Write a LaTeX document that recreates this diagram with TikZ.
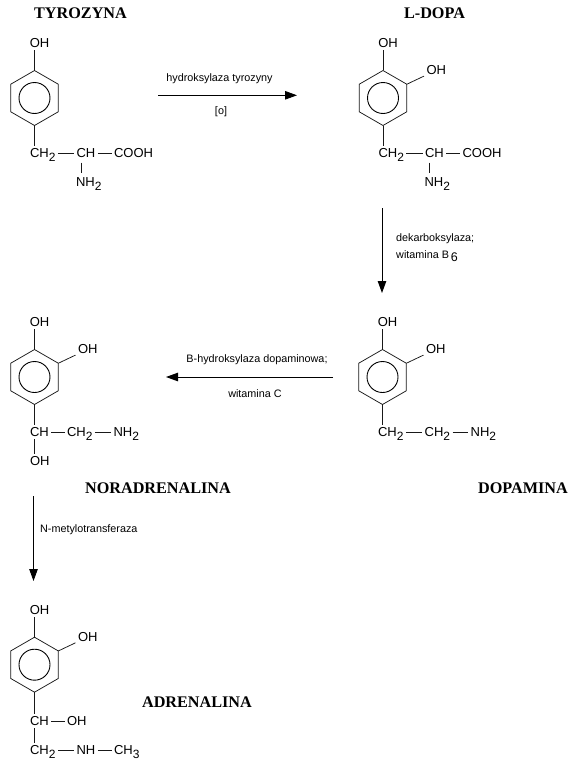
\documentclass[tikz,border=0pt]{standalone}
\usepackage{fontspec}
\setmainfont{Liberation Sans}
\newfontfamily\titlefont{Liberation Serif}
\usetikzlibrary{shapes.geometric,arrows.meta}
\newcommand{\lowidx}[1]{\raisebox{-4pt}{\fontsize{12}{12}\selectfont #1}}
\tikzset{
  x=1pt,y=-1pt,
  atom/.style={inner sep=0pt,outer sep=2.5pt,font=\fontsize{13}{14}\selectfont,text height=9.2pt,text depth=0pt,anchor=west,xshift=-2.5pt},
  bond/.style={line width=0.75pt,black!90},
  hexring/.style={draw=black!90,line width=0.75pt,regular polygon,regular polygon sides=6,shape border rotate=30,minimum size=55pt,inner sep=0pt,outer sep=0pt},
  innerring/.style={draw=black,line width=0.9pt,circle,minimum size=31pt,inner sep=0pt,outer sep=0pt},
  reaction/.style={line width=0.9pt,-{Triangle[length=12pt,width=8.5pt]}},
  enzyme/.style={inner sep=0pt,font=\fontsize{10.8}{12}\selectfont,black},
  title/.style={inner sep=0pt,font=\titlefont\fontsize{16.2}{18}\selectfont\bfseries},
}
\newcommand{\benzene}[3]{%
  \node[hexring] (#1ring) at (#2,#3) {};
  \node[innerring] (#1in) at (#2,#3) {};
  \node[atom] (#1oh) at (#2-4.7,#3-55) {OH};
  \draw[bond] (#1ring.90) -- (#1ring.90 |- #1oh.south);
}
\newcommand{\metaoh}[3]{%
  \node[atom] (#1oh2) at (#2+43.5,#3-28) {OH};
  \draw[bond] (#1ring.30) -- ([yshift=1pt]#1oh2.south west);
}
\begin{document}
\begin{tikzpicture}
\useasboundingbox (0,0) rectangle (569,763);
% Tyrozyna
\node[title] (t1) at (80.5,13) {TYROZYNA};
\benzene{a}{34.5}{98}
\node[atom] (ach2) at (30,153) {CH\lowidx{2}};
\node[atom] (ach) at (76.5,153) {CH};
\node[atom] (acooh) at (114,153) {COOH};
\node[atom] (anh2) at (76,181.5) {NH\lowidx{2}};
\draw[bond] (aring.270) -- (aring.270 |- ach2.north);
\draw[bond] (ach2.east) -- (ach.west);
\draw[bond] (ach.east) -- (acooh.west);
\draw[bond] (ach.south -| anh2.west) ++(7.5,2.5) -- ++(0,10.5);
% L-DOPA
\node[title] (t2) at (434.5,13) {L-DOPA};
\benzene{b}{383}{98}
\metaoh{b}{383}{98}
\node[atom] (bch2) at (378.5,153) {CH\lowidx{2}};
\node[atom] (bch) at (425,153) {CH};
\node[atom] (bcooh) at (462.5,153) {COOH};
\node[atom] (bnh2) at (424.5,181.5) {NH\lowidx{2}};
\draw[bond] (bring.270) -- (bring.270 |- bch2.north);
\draw[bond] (bch2.east) -- (bch.west);
\draw[bond] (bch.east) -- (bcooh.west);
\draw[bond] (bch.south -| bnh2.west) ++(7.5,2.5) -- ++(0,10.5);
% Dopamina
\node[title] (t3) at (523,488) {DOPAMINA};
\benzene{c}{382.5}{377}
\metaoh{c}{382.5}{377}
\node[atom] (cch2) at (378,432) {CH\lowidx{2}};
\node[atom] (cchb) at (424.7,432) {CH\lowidx{2}};
\node[atom] (cnh2) at (470.7,432) {NH\lowidx{2}};
\draw[bond] (cring.270) -- (cring.270 |- cch2.north);
\draw[bond] (cch2.east) -- (cchb.west);
\draw[bond] (cchb.east) -- (cnh2.west);
% Noradrenalina
\node[title] (t4) at (158,488) {NORADRENALINA};
\benzene{d}{34.5}{377}
\metaoh{d}{34.5}{377}
\node[atom] (dch) at (30,432) {CH};
\node[atom] (dch2) at (67,432) {CH\lowidx{2}};
\node[atom] (dnh2) at (113.5,432) {NH\lowidx{2}};
\node[atom] (doh3) at (30,461) {OH};
\draw[bond] (dring.270) -- (dring.270 |- dch.north);
\draw[bond] (dch.east) -- (dch2.west);
\draw[bond] (dch2.east) -- (dnh2.west);
\draw[bond] (dch.south -| dring.270) -- (dring.270 |- doh3.north);
% Adrenalina
\node[title] (t5) at (197,702) {ADRENALINA};
\benzene{e}{34.5}{664.7}
\metaoh{e}{34.5}{664.7}
\node[atom] (ech) at (30,721) {CH};
\node[atom] (eoh) at (67,721) {OH};
\node[atom] (ech2) at (30,750) {CH\lowidx{2}};
\node[atom] (enh) at (76.5,750) {NH};
\node[atom] (ech3) at (114,750) {CH\lowidx{3}};
\draw[bond] (ering.270) -- (ering.270 |- ech.north);
\draw[bond] (ech.east) -- (eoh.west);
\draw[bond] (ech.south -| ering.270) -- (ering.270 |- ech2.north);
\draw[bond] (ech2.east) -- (enh.west);
\draw[bond] (enh.east) -- (ech3.west);
% Reactions
\coordinate (r1s) at (158,95.3); \coordinate (r1e) at (297,95.3);
\draw[reaction] (r1s) -- (r1e);
\node[enzyme] (l1) at (219.5,79) {hydroksylaza tyrozyny};
\node[enzyme] (l1b) at (221,111.5) {[o]};
\coordinate (r2s) at (382,208); \coordinate (r2e) at (382,293);
\draw[reaction] (r2s) -- (r2e);
\node[enzyme,anchor=west] (l2) at (396,239) {dekarboksylaza;};
\node[enzyme,anchor=base west] (l2b) at (396,258) {witamina B\,\raisebox{-3.5pt}{\fontsize{12.5}{13}\selectfont 6}};
\coordinate (r3s) at (333,377); \coordinate (r3e) at (166,377);
\draw[reaction] (r3s) -- (r3e);
\node[enzyme] (l3) at (257,360) {B-hydroksylaza dopaminowa;};
\node[enzyme] (l3b) at (255,393.5) {witamina C};
\coordinate (r4s) at (33.5,496); \coordinate (r4e) at (33.5,581);
\draw[reaction] (r4s) -- (r4e);
\node[enzyme,anchor=west] (l4) at (40,530) {N-metylotransferaza};
\end{tikzpicture}
\end{document}
